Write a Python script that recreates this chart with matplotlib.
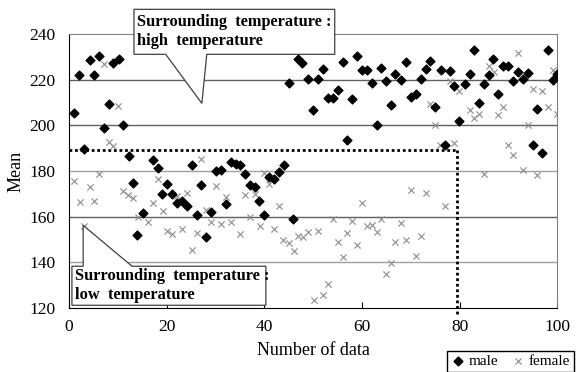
import matplotlib.pyplot as plt
from matplotlib.patches import Polygon

plt.rcParams['font.family'] = ['Liberation Serif', 'DejaVu Serif']

# male: index / mean
male_x = [1.1, 2.1, 3.1, 4.2, 5.2, 6.2, 7.2, 8.1, 9.1, 10.2, 11.1, 12.2, 13.2, 14.0, 15.1,
          17.2, 18.2, 19.1, 20.1, 21.1, 22.2, 23.2, 24.2, 25.2, 26.2, 27.1, 28.1, 29.1, 30.1,
          31.2, 32.2, 33.1, 34.2, 35.1, 36.0, 37.0, 38.1, 39.0, 40.0, 41.0, 42.0, 43.0, 44.0,
          45.1, 45.9, 46.9, 47.8, 49.0, 49.9, 51.0, 52.1, 53.0, 54.0, 55.0, 56.1, 57.0, 58.0,
          59.0, 60.0, 61.0, 62.0, 63.0, 63.9, 64.9, 65.9, 66.8, 68.0, 69.0, 70.0, 71.0, 72.0,
          73.0, 73.9, 75.0, 76.1, 76.9, 78.0, 78.9, 79.9, 81.0, 82.0, 82.9, 84.0, 85.0, 86.0,
          86.9, 87.8, 88.9, 89.9, 90.9, 91.9, 93.0, 93.9, 95.0, 95.9, 96.9, 98.0, 99.0, 99.9]
male_y = [205.4, 221.9, 189.8, 228.4, 221.9, 230.2, 199.0, 209.5, 227.4, 229.2, 200.0, 186.7,
          174.8, 151.8, 161.7, 184.7, 181.5, 169.9, 174.3, 169.9, 166.0, 166.9, 164.6, 182.8,
          160.6, 173.8, 151.1, 162.1, 180.0, 180.5, 165.4, 184.0, 183.1, 182.5, 178.6, 173.8,
          173.0, 167.0, 160.6, 177.4, 176.4, 179.6, 182.5, 218.4, 159.2, 229.0, 227.3, 220.4,
          206.9, 220.4, 224.8, 212.1, 212.1, 215.6, 227.6, 193.4, 211.4, 230.5, 224.4, 224.1,
          218.5, 200.1, 225.2, 219.4, 208.8, 222.6, 219.7, 227.6, 212.4, 213.9, 220.4, 224.8,
          228.0, 208.0, 224.4, 191.6, 223.8, 217.1, 201.9, 218.2, 222.6, 233.1, 209.7, 218.2,
          222.2, 229.2, 213.6, 226.0, 225.8, 219.4, 223.5, 220.1, 223.0, 191.2, 207.0, 188.0,
          233.1, 220.0, 222.6]

# female: index / mean
female_x = [1.0, 2.2, 3.1, 4.2, 5.1, 6.2, 7.1, 8.1, 9.1, 10.1, 11.1, 12.1, 13.2, 14.1, 16.1,
            17.2, 18.2, 19.2, 20.1, 21.1, 22.2, 23.2, 24.2, 25.2, 26.3, 27.1, 28.1, 29.1, 30.1,
            31.2, 32.2, 33.1, 35.0, 36.0, 37.0, 38.1, 39.1, 40.0, 41.0, 42.0, 43.0, 43.9, 45.1,
            46.0, 46.9, 47.9, 49.0, 50.1, 51.0, 52.0, 53.0, 54.0, 55.0, 56.1, 57.0, 58.0, 59.0,
            60.0, 61.0, 62.0, 63.0, 63.9, 64.9, 65.9, 66.8, 67.9, 69.0, 70.0, 71.0, 72.0, 73.0,
            74.0, 75.0, 76.0, 76.9, 78.0, 78.9, 79.9, 82.0, 82.9, 84.0, 84.9, 86.0, 87.0, 87.8,
            88.9, 89.9, 90.9, 91.9, 93.0, 93.9, 95.0, 95.9, 96.9, 98.0, 99.0, 99.9]
female_y = [175.5, 166.6, 155.8, 173.0, 166.8, 178.8, 226.8, 192.5, 191.1, 208.3, 171.3, 169.6,
            168.0, 160.0, 157.8, 166.2, 176.4, 162.5, 153.7, 152.3, 169.1, 154.8, 170.4, 145.6,
            153.0, 185.2, 162.8, 157.7, 173.3, 157.0, 168.6, 157.7, 152.6, 169.4, 159.9, 170.0,
            155.8, 179.1, 174.5, 154.5, 164.7, 150.0, 148.3, 145.0, 151.4, 151.3, 153.5, 123.7,
            153.7, 125.9, 130.4, 158.9, 148.7, 142.4, 153.0, 158.1, 147.5, 166.0, 155.8, 156.5,
            153.3, 158.9, 134.7, 139.6, 148.9, 157.2, 149.7, 171.5, 142.8, 151.6, 170.4, 209.2,
            200.1, 191.2, 164.7, 219.4, 192.3, 215.0, 206.6, 203.4, 204.8, 178.6, 226.0, 223.3,
            204.7, 208.0, 191.2, 186.9, 231.6, 180.3, 200.0, 215.8, 178.1, 214.9, 208.0, 224.1,
            204.8]

# boundary between surrounding temperature groups (dotted guide)
split_mean = 189
split_index = 79.5

fig = plt.figure(figsize=(5.76, 3.72), dpi=100)
ax = fig.add_axes([0.1198, 0.172, 0.848, 0.7366])

for yv, col in [(220, '#606060'), (200, '#606060'), (180, '#a0a0a0'),
                (160, '#606060'), (140, '#a0a0a0')]:
    ax.axhline(yv, color=col, lw=1.0, zorder=1)

ax.plot([0, split_index], [split_mean, split_mean], ls=(0, (1, 1)), color='black', lw=2.0, zorder=2)
ax.plot([split_index, split_index], [split_mean, 117], ls=(0, (1, 1)), color='black', lw=2.0,
        zorder=2, clip_on=False)

ax.scatter(female_x, female_y, marker='x', s=20, color='#8c8c8c', linewidths=0.8, zorder=3,
           label='female')
ax.scatter(male_x, male_y, marker='D', s=20, color='black', zorder=4, label='male')

ax.set_xlim(0, 100)
ax.set_ylim(120, 240)
ax.set_xticks(range(0, 101, 20))
ax.set_yticks(range(120, 241, 20))
ax.tick_params(direction='in', length=4, labelsize=12.5, width=0.8)
ax.tick_params(axis='x', pad=8)
ax.tick_params(axis='y', length=0, pad=10)
for s in ['top', 'right']:
    ax.spines[s].set_color('#808080')
ax.spines['left'].set_color('black')
ax.spines['bottom'].set_color('black')

ax.set_xlabel('Number of data', fontsize=13, labelpad=5)
ax.set_ylabel('Mean', fontsize=13, labelpad=3)

# callouts (Excel-style boxes with a wedge pointer)
high_box = [(13.3, 250.8), (54.4, 250.8), (54.4, 231.1), (28.2, 231.1), (27.2, 209.6),
            (19.8, 231.1), (13.3, 231.1)]
low_box = [(0.6, 138.3), (2.9, 138.3), (2.9, 156.2), (12.9, 138.3), (40.3, 138.3),
           (40.3, 121.2), (0.6, 121.2)]
for pts in (high_box, low_box):
    ax.add_patch(Polygon(pts, closed=True, facecolor='white', edgecolor='#404040', lw=0.9,
                         clip_on=False, zorder=6))

ax.text(14.0, 241.0, 'Surrounding  temperature :\nhigh  temperature', fontsize=11.8,
        fontweight='bold', va='center', ha='left', linespacing=1.25, zorder=7, clip_on=False)
ax.text(1.2, 129.8, 'Surrounding  temperature :\nlow  temperature', fontsize=11.8,
        fontweight='bold', va='center', ha='left', linespacing=1.25, zorder=7, clip_on=False)

handles, labels = ax.get_legend_handles_labels()
fig.legend(handles[::-1], labels[::-1], loc='upper left', bbox_to_anchor=(0.762, 0.078),
           ncol=2, fontsize=11, frameon=True, fancybox=False, edgecolor='black',
           handletextpad=0.2, columnspacing=0.8, handlelength=1.0, borderpad=0.25,
           framealpha=1)

fig.savefig('out.png', dpi=100)
